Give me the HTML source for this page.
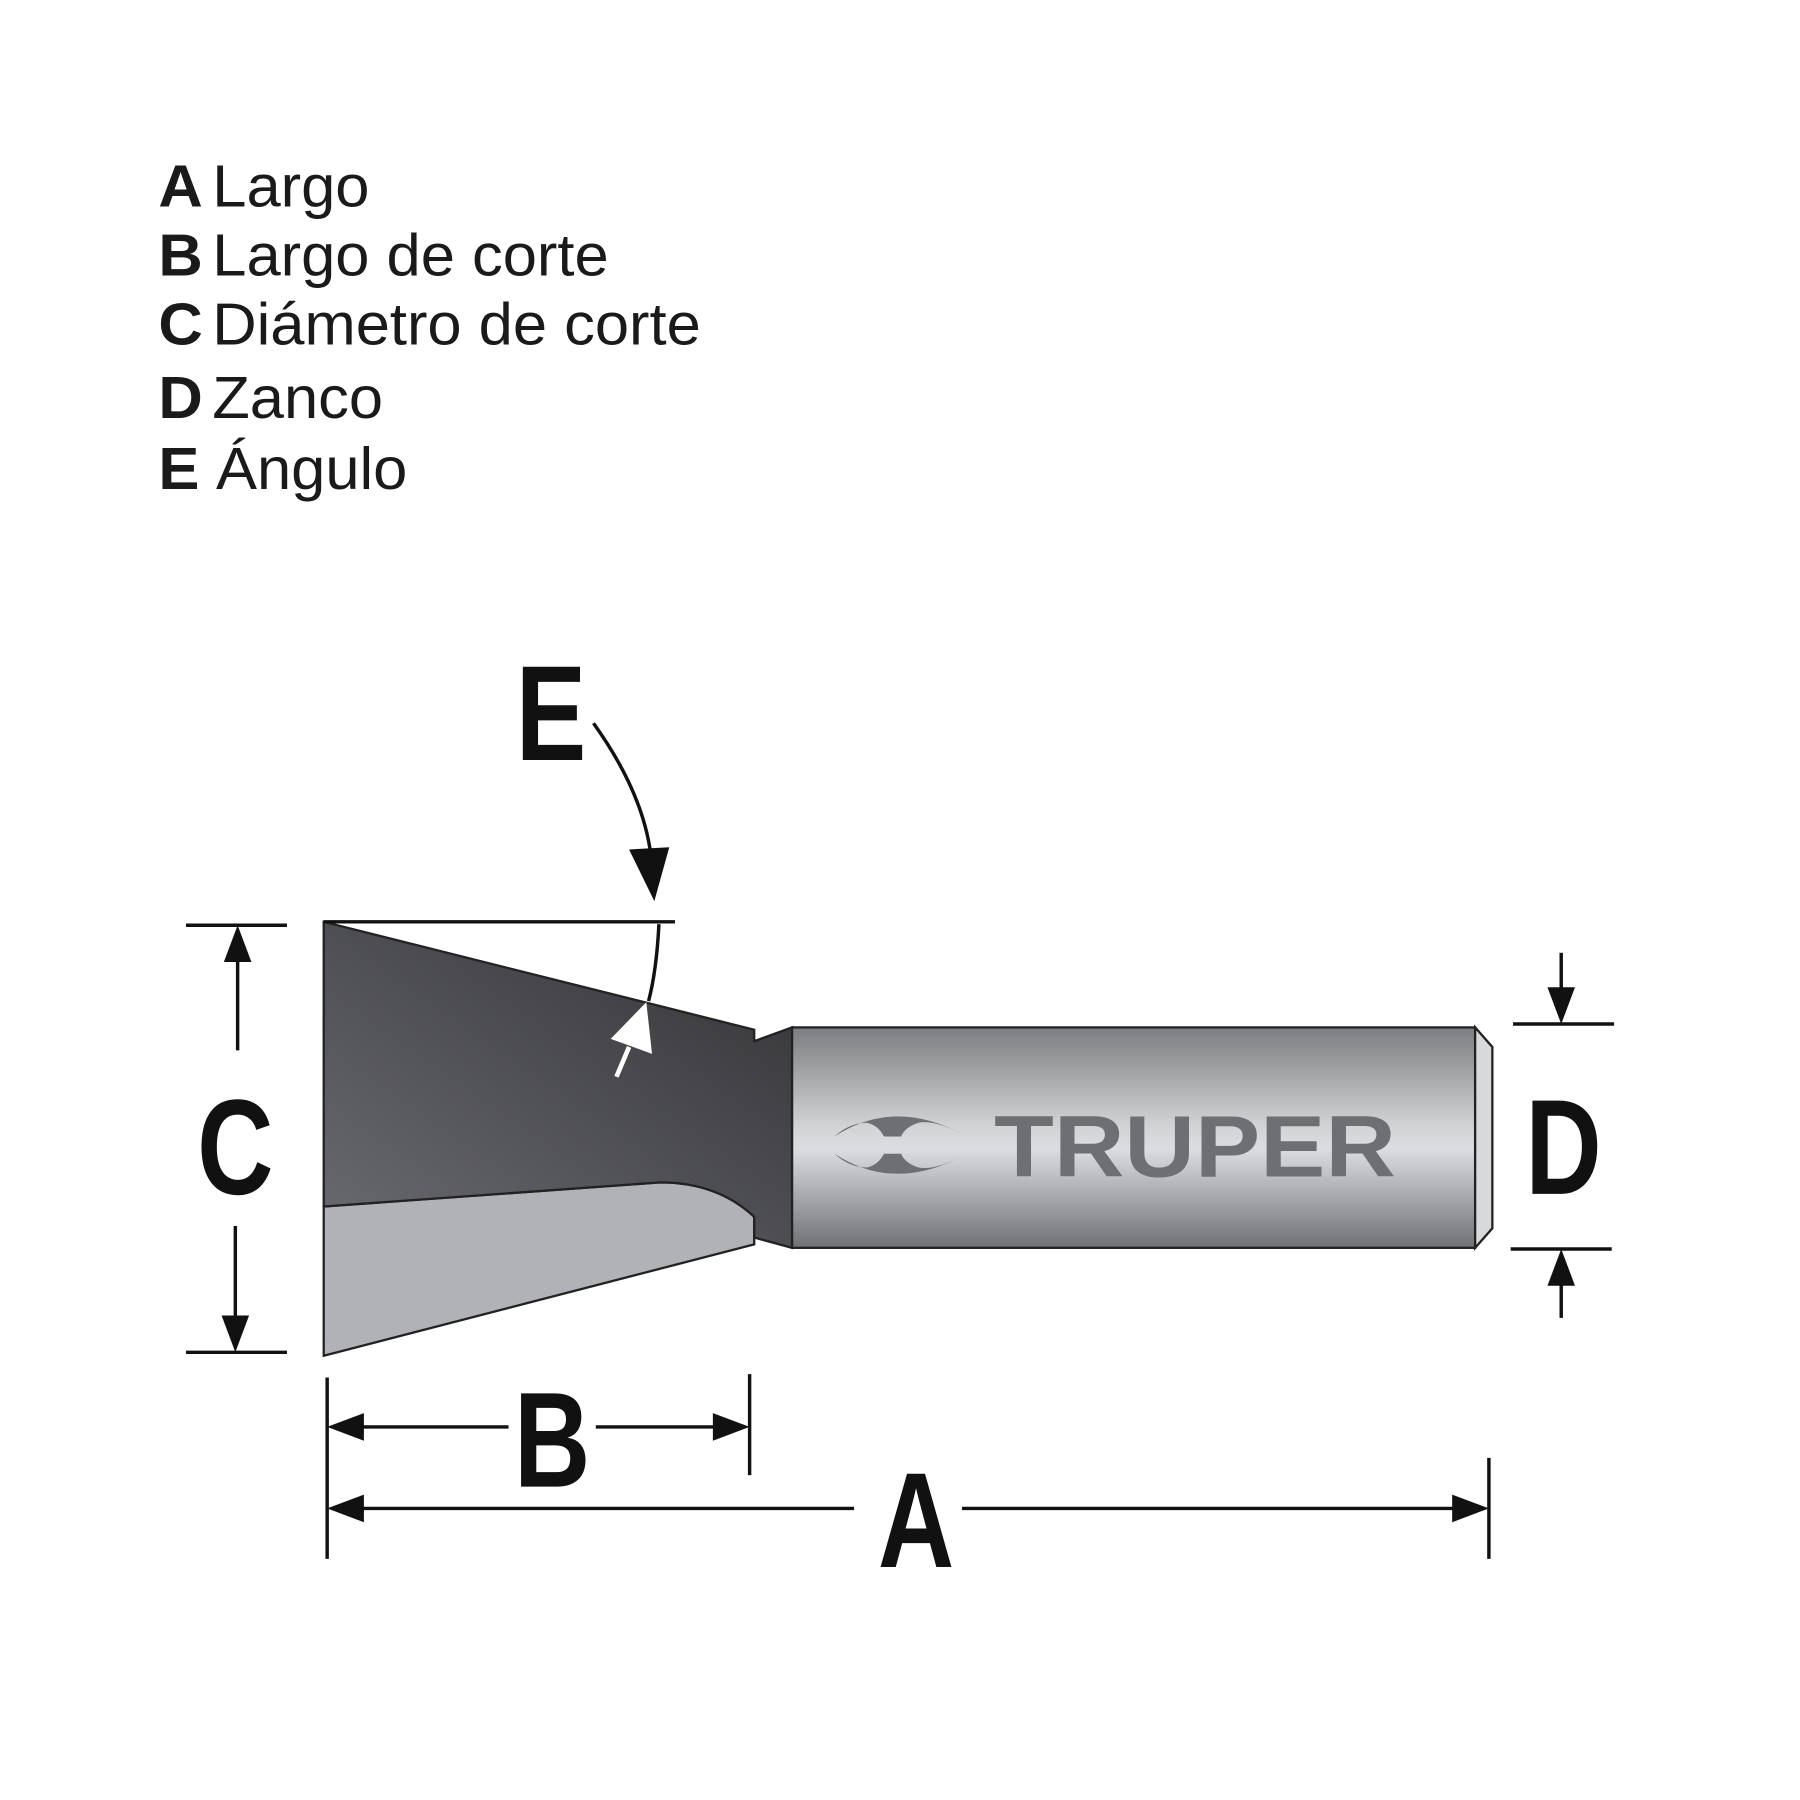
<!DOCTYPE html>
<html><head><meta charset="utf-8"><style>
html,body{margin:0;padding:0;background:#fff;}
svg{display:block}
.big{font-family:"Liberation Sans",sans-serif;font-weight:bold;fill:#111;}
.leg{font-family:"Liberation Sans",sans-serif;fill:#1a1a1a;}
</style></head><body>
<svg width="1800" height="1800" viewBox="0 0 1568 1568" xmlns="http://www.w3.org/2000/svg">
<defs>
<linearGradient id="dark" x1="0" y1="1" x2="1" y2="0">
<stop offset="0" stop-color="#6a6b70"/><stop offset="1" stop-color="#333336"/></linearGradient>
<linearGradient id="shank" x1="0" y1="0" x2="0" y2="1">
<stop offset="0" stop-color="#7c7d80"/><stop offset="0.45" stop-color="#d2d3d5"/><stop offset="0.55" stop-color="#dcdde0"/><stop offset="1" stop-color="#707174"/></linearGradient>
</defs>
<g class="leg" font-size="52" transform="translate(138 0) scale(1.03 1) translate(-138 0)">
<text x="138" y="180"><tspan font-weight="bold">A</tspan><tspan dx="8">Largo</tspan></text>
<text x="138" y="240"><tspan font-weight="bold">B</tspan><tspan dx="8">Largo de corte</tspan></text>
<text x="138" y="300"><tspan font-weight="bold">C</tspan><tspan dx="8">Diámetro de corte</tspan></text>
<text x="138" y="364"><tspan font-weight="bold">D</tspan><tspan dx="8">Zanco</tspan></text>
<text x="138" y="426"><tspan font-weight="bold">E</tspan><tspan dx="14">Ángulo</tspan></text>
</g>
<path d="M282,1051 L575,1030 Q625,1030 657,1060 L657,1084 L282,1181 Z" fill="#b0b2b5" stroke="#222" stroke-width="2"/>
<path d="M282,803 L657,897 L657,907 L690,895 L690,1087 L657,1078 L657,1060 Q625,1030 575,1030 L282,1051 Z" fill="url(#dark)" stroke="#222" stroke-width="2"/>
<rect x="690" y="895" width="595" height="192" fill="url(#shank)" stroke="#222" stroke-width="2"/>
<path d="M1285,895 L1300,912 L1300,1070 L1285,1087 Z" fill="#d8d9db" stroke="#222" stroke-width="2"/>
<g fill="#6e6f72">
<path d="M727,990 Q780,955 842,990 Q815,975 800,978 Q788,982 785,990 L770,990 Q765,980 755,978 Q740,978 727,990Z"/>
<path d="M727,1005 Q780,1040 842,1005 Q815,1020 800,1017 Q788,1013 785,1005 L770,1005 Q765,1015 755,1017 Q740,1017 727,1005Z"/>
</g>
<text x="866" y="1025" font-family="Liberation Sans,sans-serif" font-weight="bold" font-size="76" fill="#6e6f72" textLength="350" lengthAdjust="spacingAndGlyphs">TRUPER</text>
<line x1="282" y1="803" x2="588" y2="803" stroke="#111" stroke-width="3"/>
<path d="M574,805 Q572,845 565,872" fill="none" stroke="#111" stroke-width="3"/>
<path d="M563,873 L568,918 L532,905 Z" fill="#fff"/>
<line x1="548" y1="912" x2="537" y2="938" stroke="#fff" stroke-width="4"/>
<path d="M517,630 Q560,690 567,745" fill="none" stroke="#111" stroke-width="3"/>
<path d="M548,740 L583,738 L570,785 Z" fill="#111"/>
<text class="big" x="480" y="662" font-size="118" text-anchor="middle" transform="translate(480 0) scale(0.78 1) translate(-480 0)">E</text>
<g stroke="#111" stroke-width="3">
<line x1="162" y1="806" x2="250" y2="806"/><line x1="162" y1="1178" x2="250" y2="1178"/>
<line x1="207" y1="830" x2="207" y2="915"/><line x1="205" y1="1068" x2="205" y2="1155"/>
<line x1="1318" y1="892" x2="1406" y2="892"/><line x1="1316" y1="1088" x2="1404" y2="1088"/>
<line x1="1360" y1="830" x2="1360" y2="865"/><line x1="1360" y1="1115" x2="1360" y2="1148"/>
<line x1="285" y1="1200" x2="285" y2="1358"/><line x1="653" y1="1197" x2="653" y2="1285"/>
<line x1="1297" y1="1270" x2="1297" y2="1358"/>
<line x1="300" y1="1243" x2="443" y2="1243"/><line x1="519" y1="1243" x2="630" y2="1243"/>
<line x1="300" y1="1314" x2="744" y2="1314"/><line x1="838" y1="1314" x2="1280" y2="1314"/>
</g>
<g fill="#111">
<path d="M207,806 L195,838 L219,838Z"/><path d="M205,1178 L193,1146 L217,1146Z"/>
<path d="M1360,892 L1348,860 L1372,860Z"/><path d="M1360,1088 L1348,1120 L1372,1120Z"/>
<path d="M285,1243 L317,1231 L317,1255Z"/><path d="M653,1243 L621,1231 L621,1255Z"/>
<path d="M285,1314 L317,1302 L317,1326Z"/><path d="M1297,1314 L1265,1302 L1265,1326Z"/>
</g>
<text class="big" x="205" y="1040" font-size="118" text-anchor="middle" transform="translate(205 0) scale(0.78 1) translate(-205 0)">C</text>
<text class="big" x="1362" y="1040" font-size="118" text-anchor="middle" transform="translate(1362 0) scale(0.78 1) translate(-1362 0)">D</text>
<text class="big" x="481" y="1295" font-size="118" text-anchor="middle" transform="translate(481 0) scale(0.78 1) translate(-481 0)">B</text>
<text class="big" x="798" y="1365" font-size="118" text-anchor="middle" transform="translate(798 0) scale(0.78 1) translate(-798 0)">A</text>
</svg>
</body></html>
